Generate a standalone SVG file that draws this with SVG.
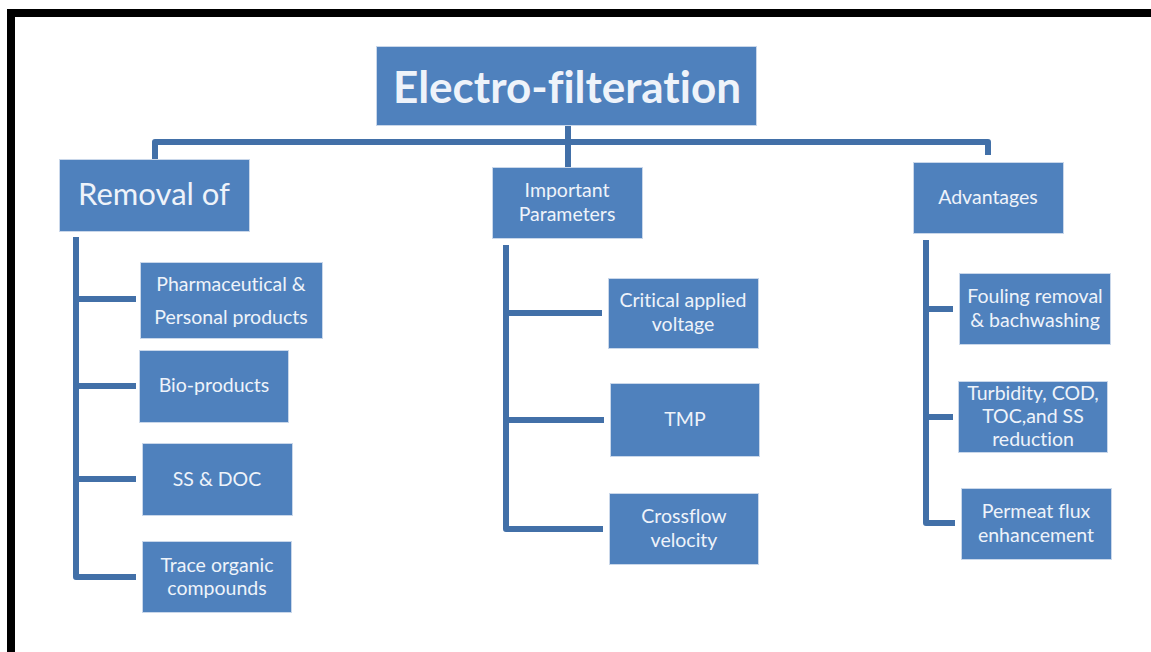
<svg xmlns="http://www.w3.org/2000/svg" width="1151" height="652" viewBox="0 0 1151 652">
<style>
.box{fill:#4f81bd;stroke:#c9d7ea;stroke-width:1}
.t{fill:#eef3fa;font-family:Lato,"Liberation Sans",sans-serif;font-size:19.5px;text-anchor:middle;font-variant-ligatures:none;font-feature-settings:"liga" 0,"dlig" 0}
.c{fill:none;stroke:#4270a8;stroke-width:6;stroke-linejoin:round}
</style>
<rect x="0" y="0" width="1151" height="652" fill="#ffffff"/>
<path d="M11 652 V13 H1151" fill="none" stroke="#000000" stroke-width="8"/>
<g id="connectors">
<path class="c" d="M568 125 V142"/>
<path class="c" d="M155 160 V142 H988 V155"/>
<path class="c" d="M568 142 V167"/>
<path class="c" d="M76 237 V577 H136"/>
<path class="c" d="M76 299 H136 M76 386 H136 M76 479 H136"/>
<path class="c" d="M506 245 V529 H603"/>
<path class="c" d="M506 313 H602 M506 420 H604"/>
<path class="c" d="M926 240 V523 H955"/>
<path class="c" d="M926 309 H953 M926 417 H953"/>
</g>
<g id="title">
<rect class="box" x="376.5" y="46.5" width="380" height="79"/>
<text class="t" x="567" y="103" style="font-size:44px;font-weight:bold">Electro-filteration</text>
</g>
<g id="removal">
<rect class="box" x="59.5" y="159.5" width="190" height="72"/>
<text class="t" x="154" y="205" style="font-size:31px">Removal of</text>
</g>
<g id="params">
<rect class="box" x="492.5" y="167.5" width="150" height="71"/>
<text class="t" x="567" y="197">Important</text>
<text class="t" x="567" y="221">Parameters</text>
</g>
<g id="advantages">
<rect class="box" x="913.5" y="162.5" width="150" height="71"/>
<text class="t" x="988" y="204">Advantages</text>
</g>
<g id="pharma">
<rect class="box" x="140.5" y="262.5" width="182" height="76"/>
<text class="t" x="231" y="291">Pharmaceutical &amp;</text>
<text class="t" x="231" y="324">Personal products</text>
</g>
<g id="bio">
<rect class="box" x="139.5" y="350.5" width="149" height="72"/>
<text class="t" x="214" y="392">Bio-products</text>
</g>
<g id="ssdoc">
<rect class="box" x="142.5" y="443.5" width="150" height="72"/>
<text class="t" x="217" y="486">SS &amp; DOC</text>
</g>
<g id="trace">
<rect class="box" x="142.5" y="541.5" width="149" height="71"/>
<text class="t" x="217" y="572">Trace organic</text>
<text class="t" x="217" y="595">compounds</text>
</g>
<g id="voltage">
<rect class="box" x="608.5" y="278.5" width="150" height="70"/>
<text class="t" x="683" y="307">Critical applied</text>
<text class="t" x="683" y="331">voltage</text>
</g>
<g id="tmp">
<rect class="box" x="610.5" y="383.5" width="149" height="73"/>
<text class="t" x="685" y="426">TMP</text>
</g>
<g id="crossflow">
<rect class="box" x="609.5" y="493.5" width="149" height="71"/>
<text class="t" x="684" y="523">Crossflow</text>
<text class="t" x="684" y="547">velocity</text>
</g>
<g id="fouling">
<rect class="box" x="959.5" y="273.5" width="151" height="71"/>
<text class="t" x="1035" y="303">Fouling removal</text>
<text class="t" x="1035" y="327">&amp; bachwashing</text>
</g>
<g id="turbidity">
<rect class="box" x="958.5" y="381.5" width="149" height="71"/>
<text class="t" x="1033" y="400">Turbidity, COD,</text>
<text class="t" x="1033" y="423">TOC,and SS</text>
<text class="t" x="1033" y="446">reduction</text>
</g>
<g id="permeat">
<rect class="box" x="961.5" y="488.5" width="150" height="71"/>
<text class="t" x="1036" y="518">Permeat flux</text>
<text class="t" x="1036" y="542">enhancement</text>
</g>
</svg>
